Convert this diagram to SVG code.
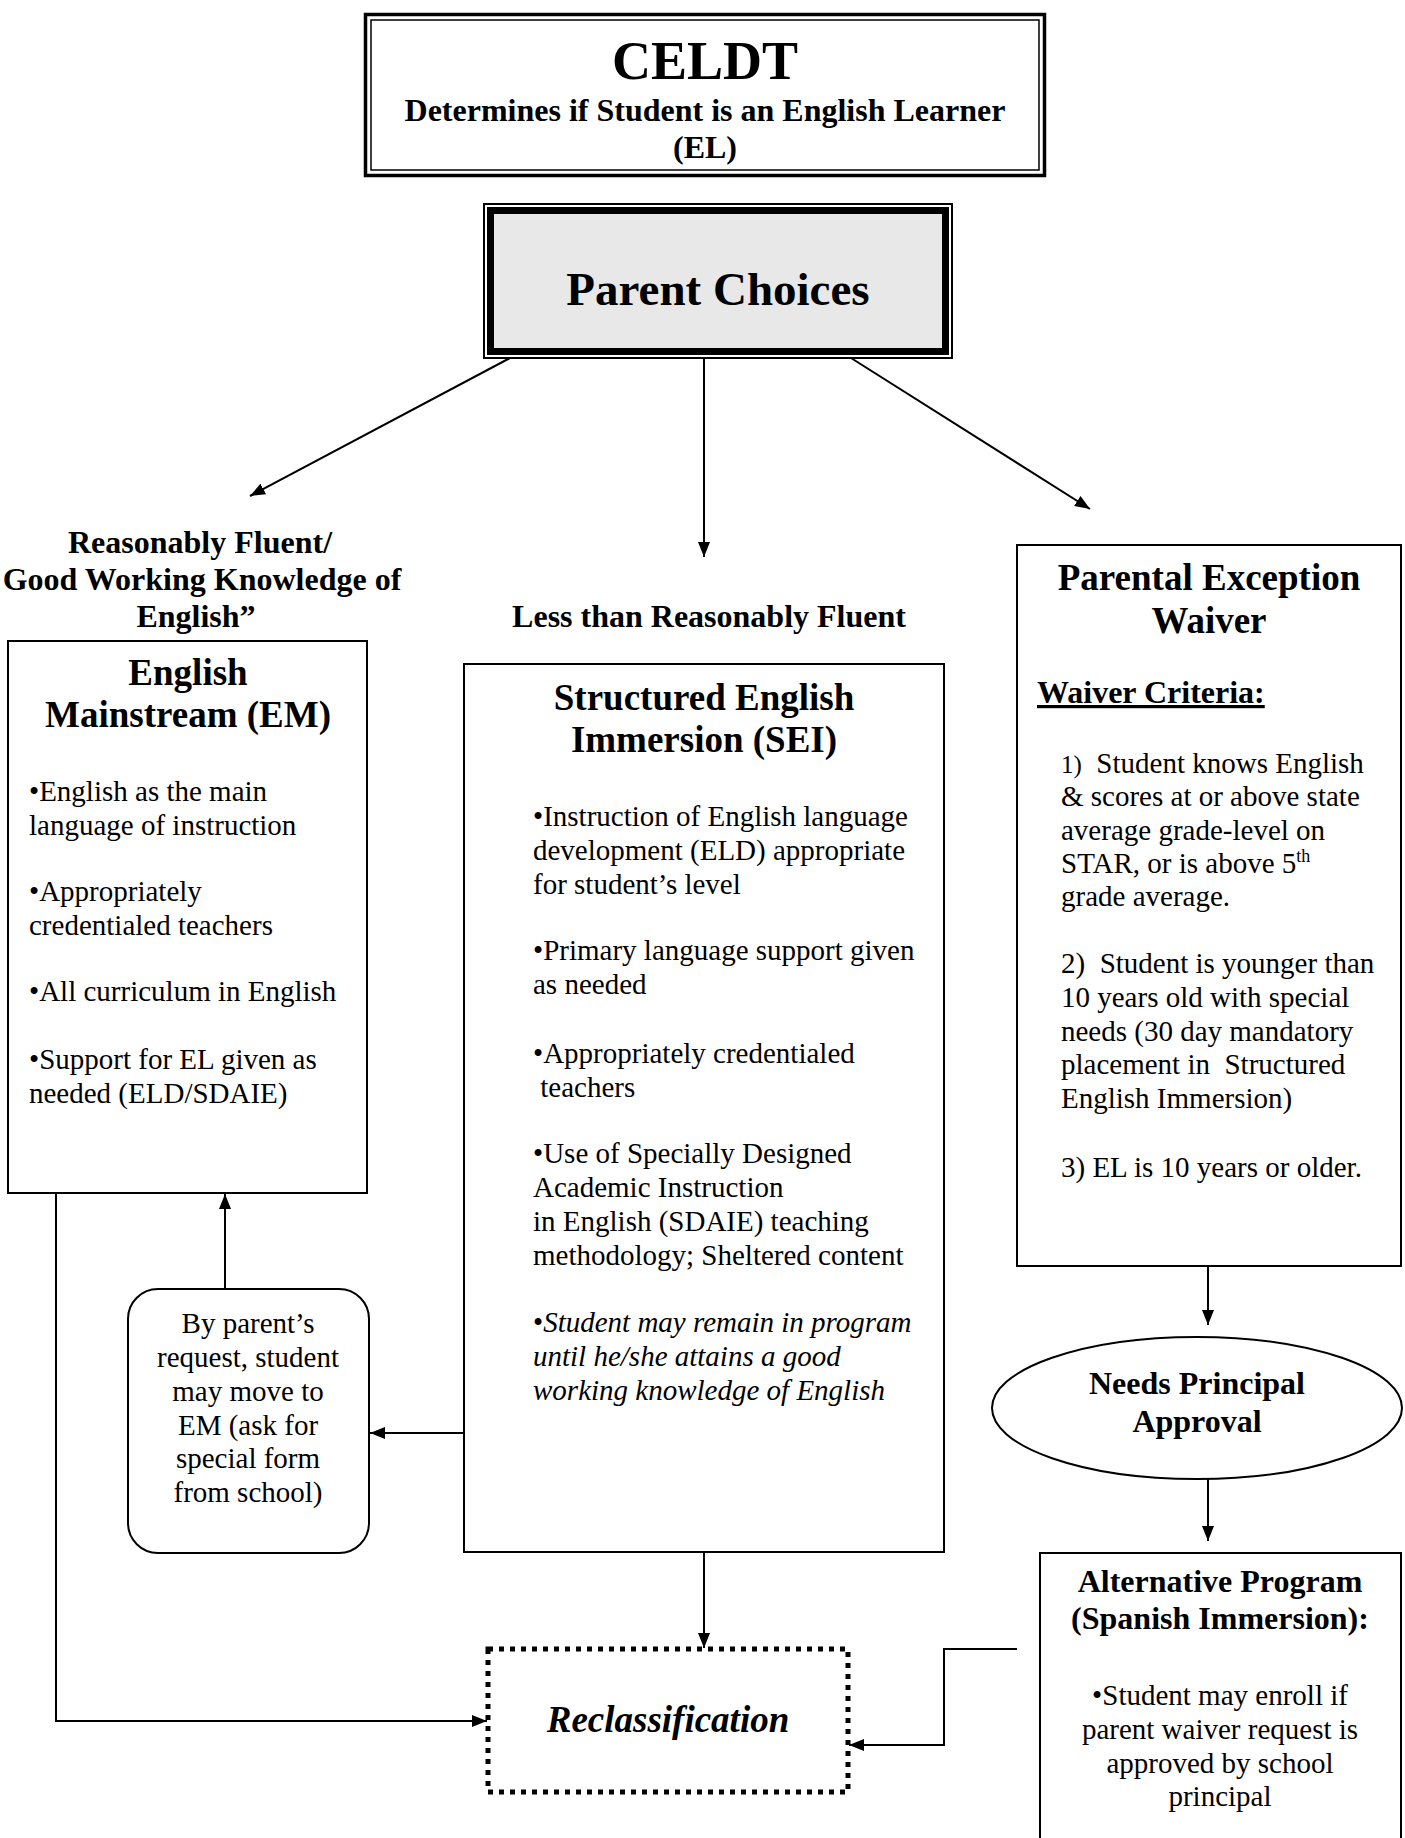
<svg xmlns="http://www.w3.org/2000/svg" width="1405" height="1838" viewBox="0 0 1405 1838">
<style>
text{font-family:"Liberation Serif","Times New Roman",serif;fill:#000}
.b{font-weight:bold}
.t37{font-size:37px;font-weight:bold;text-anchor:middle}
.t32{font-size:32px;font-weight:bold;text-anchor:middle}
.body{font-size:29px}
.pre text{white-space:pre}
.c{text-anchor:middle}
.box{fill:#fff;stroke:#000;stroke-width:2}
.conn{fill:none;stroke:#000;stroke-width:2}
</style>
<defs>
<marker id="ah" markerUnits="userSpaceOnUse" markerWidth="16" markerHeight="12" refX="15" refY="6" orient="auto">
<path d="M0,0 L15,6 L0,12 z" fill="#000"/>
</marker>
</defs>
<rect width="1405" height="1838" fill="#fff"/>

<g id="celdt">
<rect x="365.5" y="14.5" width="679" height="161" fill="#fff" stroke="#000" stroke-width="3.5"/>
<rect x="371" y="20" width="668" height="150" fill="none" stroke="#000" stroke-width="1.5"/>
<text x="705" y="79" class="c b" font-size="54">CELDT</text>
<text x="705" y="121" class="t32">Determines if Student is an English Learner</text>
<text x="705" y="158" class="t32">(EL)</text>
</g>

<g id="parent-choices">
<rect x="484" y="204" width="468" height="154" fill="#fff" stroke="#000" stroke-width="2"/>
<rect x="490.5" y="210.5" width="455" height="141" fill="#e8e8e8" stroke="#000" stroke-width="7"/>
<text x="718" y="305" class="c b" font-size="47">Parent Choices</text>
</g>

<g id="label-fluent">
<text x="200" y="553" class="t32">Reasonably Fluent/</text>
<text x="202" y="590" class="t32">Good Working Knowledge of</text>
<text x="196" y="627" class="t32">English”</text>
</g>

<g id="label-less">
<text x="709" y="627" class="t32">Less than Reasonably Fluent</text>
</g>

<g id="em">
<rect x="8" y="641" width="359" height="552" class="box"/>
<text x="188" y="685" class="t37">English</text>
<text x="188" y="727" class="t37">Mainstream (EM)</text>
<g class="body">
<text x="29" y="801">•English as the main</text>
<text x="29" y="835">language of instruction</text>
<text x="29" y="901">•Appropriately</text>
<text x="29" y="935">credentialed teachers</text>
<text x="29" y="1001">•All curriculum in English</text>
<text x="29" y="1069">•Support for EL given as</text>
<text x="29" y="1103">needed (ELD/SDAIE)</text>
</g>
</g>

<g id="sei">
<rect x="464" y="664" width="480" height="888" class="box"/>
<text x="704" y="710" class="t37">Structured English</text>
<text x="704" y="752" class="t37">Immersion (SEI)</text>
<g class="body pre">
<text x="533" y="826">•Instruction of English language</text>
<text x="533" y="860">development (ELD) appropriate</text>
<text x="533" y="894">for student’s level</text>
<text x="533" y="960">•Primary language support given</text>
<text x="533" y="994">as needed</text>
<text x="533" y="1063">•Appropriately credentialed</text>
<text x="533" y="1097"> teachers</text>
<text x="533" y="1163">•Use of Specially Designed</text>
<text x="533" y="1197">Academic Instruction</text>
<text x="533" y="1231">in English (SDAIE) teaching</text>
<text x="533" y="1265">methodology; Sheltered content</text>
<text x="533" y="1332">•<tspan font-style="italic">Student may remain in program</tspan></text>
<text x="533" y="1366" font-style="italic">until he/she attains a good</text>
<text x="533" y="1400" font-style="italic">working knowledge of English</text>
</g>
</g>

<g id="waiver">
<rect x="1017" y="545" width="384" height="721" class="box"/>
<text x="1209" y="590" class="t37">Parental Exception</text>
<text x="1209" y="633" class="t37">Waiver</text>
<text x="1037" y="703" class="b" font-size="32" text-decoration="underline">Waiver Criteria:</text>
<g class="body pre">
<text x="1061" y="773"><tspan font-size="25">1)</tspan>  Student knows English</text>
<text x="1061" y="806">&amp; scores at or above state</text>
<text x="1061" y="840">average grade-level on</text>
<text x="1061" y="873">STAR, or is above 5<tspan font-size="18" dy="-11">th</tspan></text>
<text x="1061" y="906">grade average.</text>
<text x="1061" y="973">2)  Student is younger than</text>
<text x="1061" y="1007">10 years old with special</text>
<text x="1061" y="1041">needs (30 day mandatory</text>
<text x="1061" y="1074">placement in  Structured</text>
<text x="1061" y="1108">English Immersion)</text>
<text x="1061" y="1177">3) EL is 10 years or older.</text>
</g>
</g>

<g id="principal">
<ellipse cx="1197" cy="1408" rx="205" ry="71" fill="#fff" stroke="#000" stroke-width="2"/>
<text x="1197" y="1394" class="t32">Needs Principal</text>
<text x="1197" y="1432" class="t32">Approval</text>
</g>

<g id="alternative">
<rect x="1040" y="1553" width="361" height="320" class="box"/>
<text x="1220" y="1592" class="t32">Alternative Program</text>
<text x="1220" y="1629" class="t32">(Spanish Immersion):</text>
<g class="body c">
<text x="1220" y="1705">•Student may enroll if</text>
<text x="1220" y="1739">parent waiver request is</text>
<text x="1220" y="1773">approved by school</text>
<text x="1220" y="1806">principal</text>
</g>
</g>

<g id="request">
<rect x="128" y="1289" width="241" height="264" rx="30" ry="30" class="box"/>
<g class="body c">
<text x="248" y="1333">By parent’s</text>
<text x="248" y="1367">request, student</text>
<text x="248" y="1401">may move to</text>
<text x="248" y="1435">EM (ask for</text>
<text x="248" y="1468">special form</text>
<text x="248" y="1502">from school)</text>
</g>
</g>

<g id="reclassification">
<rect x="488" y="1649" width="360" height="143" fill="#fff" stroke="#000" stroke-width="5" stroke-dasharray="5 6"/>
<text x="668" y="1732" class="c b" font-size="37" font-style="italic">Reclassification</text>
</g>

<g id="connectors" class="conn">
<line x1="510" y1="358" x2="250" y2="496" marker-end="url(#ah)"/>
<line x1="704" y1="358" x2="704" y2="557" marker-end="url(#ah)"/>
<line x1="851" y1="358" x2="1090" y2="509" marker-end="url(#ah)"/>
<line x1="1208" y1="1266" x2="1208" y2="1325" marker-end="url(#ah)"/>
<line x1="1208" y1="1479" x2="1208" y2="1541" marker-end="url(#ah)"/>
<line x1="225" y1="1289" x2="225" y2="1194" marker-end="url(#ah)"/>
<line x1="464" y1="1433" x2="370" y2="1433" marker-end="url(#ah)"/>
<line x1="704" y1="1552" x2="704" y2="1648" marker-end="url(#ah)"/>
<polyline points="56,1193 56,1721 487,1721" marker-end="url(#ah)"/>
<polyline points="1017,1649 944,1649 944,1745 849,1745" marker-end="url(#ah)"/>
</g>
</svg>
